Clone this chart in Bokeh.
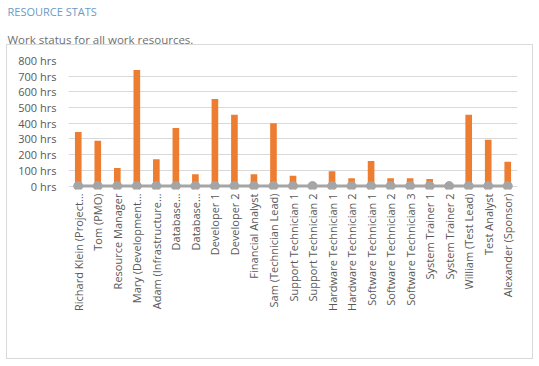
from math import pi
from bokeh.plotting import figure
from bokeh.models import (ColumnDataSource, Range1d, FixedTicker, PrintfTickFormatter,
                          Legend, LegendItem, Title)
from bokeh.embed import file_html
from bokeh.resources import INLINE

# ---------------- data ----------------
resource_labels = [
    "Richard Klein (Project\u2026", "Tom (PMO)", "Resource Manager", "Mary (Development\u2026",
    "Adam (Infrastructure\u2026", "Database\u2026", "Database\u2026", "Developer 1", "Developer 2",
    "Financial Analyst", "Sam (Technician Lead)", "Support Technician 1", "Support Technician 2",
    "Hardware Technician 1", "Hardware Technician 2", "Software Technician 1",
    "Software Technician 2", "Software Technician 3", "System Trainer 1", "System Trainer 2",
    "William (Test Lead)", "Test Analyst", "Alexander (Sponsor)",
]
actual_work = [0, 0, 0, 0, 0, 0, 0, 0, 0, 0, 0, 0, 0, 0, 0, 0, 0, 0, 0, 0, 0, 0, 0]
remaining_work = [345, 288, 115, 740, 170, 370, 75, 555, 455, 75, 400, 65, 0,
                  95, 50, 160, 50, 50, 45, 0, 455, 295, 155]
baseline_work = [0, 0, 0, 0, 0, 0, 0, 0, 0, 0, 0, 0, 0, 0, 0, 0, 0, 0, 0, 0, 0, 0, 0]
y_ticks = [0, 100, 200, 300, 400, 500, 600, 700, 800]
title_text = "RESOURCE STATS"
subtitle_text = "Work status for all work resources."
series_names = ["Actual Work", "Remaining Work", "Baseline Work"]

FONT = "Open Sans"
BLUE, ORANGE, GRAY = "#5b9bd5", "#ed7d31", "#a5a5a5"
TXT = "#595959"
BOX = "#d9d9d9"

n = len(resource_labels)
xs = list(range(n))
src = ColumnDataSource(dict(
    x=xs,
    actual=actual_work,
    rem_bottom=actual_work,
    rem_top=[a + r for a, r in zip(actual_work, remaining_work)],
    base=baseline_work,
))

g = "linear-gradient(%s,%s)" % (BOX, BOX)
box_css = ", ".join([
    g + " 6px 44px / 527px 1px no-repeat",
    g + " 6px 358px / 527px 1px no-repeat",
    g + " 6px 44px / 1px 315px no-repeat",
    g + " 532px 44px / 1px 315px no-repeat",
])

p = figure(width=539, height=366, x_range=Range1d(-0.5, n - 0.5), y_range=Range1d(-22, 800),
           output_backend="svg", toolbar_location=None,
           min_border_left=68, min_border_right=22, min_border_top=59, min_border_bottom=177,
           styles={"background": box_css})
p.outline_line_color = None
p.background_fill_color = None
p.border_fill_color = None

# header titles: p.title is the outer (top) one, the added one sits next to the plot
p.title.text = title_text
p.title.text_font = FONT
p.title.text_font_size = "11px"
p.title.text_font_style = "normal"
p.title.text_color = "#6b9bc7"
p.title.align = "left"
p.title.offset = -61
p.title.standoff = 2
p.title.level = "overlay"
p.add_layout(Title(text=subtitle_text, text_font=FONT, text_font_size="11.5px",
                   text_font_style="normal", text_color="#6f6f6f", align="left",
                   offset=-61, standoff=24, vertical_align="top", level="overlay"), "above")

r_act = p.vbar(x="x", bottom=0, top="actual", width=0.34, source=src,
               fill_color=BLUE, line_color=None)
r_rem = p.vbar(x="x", bottom="rem_bottom", top="rem_top", width=0.34, source=src,
               fill_color=ORANGE, line_color=None)
r_line = p.line(x="x", y="base", source=src, line_color=GRAY, line_width=3)
r_pts = p.scatter(x="x", y="base", source=src, size=9, fill_color=GRAY, line_color=GRAY)

# axes
p.xaxis.ticker = FixedTicker(ticks=xs)
p.xaxis.major_label_overrides = {i: lbl for i, lbl in enumerate(resource_labels)}
p.xaxis.major_label_orientation = pi / 2
p.xaxis.axis_line_color = None
p.xaxis.major_tick_line_color = None
p.xaxis.minor_tick_line_color = None
p.xaxis.major_tick_out = 0
p.xaxis.major_label_standoff = 4
p.xaxis.major_label_text_font = FONT
p.xaxis.major_label_text_font_size = "11px"
p.xaxis.major_label_text_color = TXT
p.xaxis.axis_label = "\u00a0"
p.xaxis.axis_label_standoff = 14
p.xaxis.axis_label_text_font_size = "12px"

p.yaxis.ticker = FixedTicker(ticks=y_ticks)
p.yaxis.formatter = PrintfTickFormatter(format="%d hrs")
p.yaxis.axis_line_color = None
p.yaxis.major_tick_line_color = None
p.yaxis.minor_tick_line_color = None
p.yaxis.major_tick_out = 0
p.yaxis.major_label_standoff = 12
p.yaxis.major_label_text_font = FONT
p.yaxis.major_label_text_font_size = "11px"
p.yaxis.major_label_text_color = TXT

p.xgrid.grid_line_color = None
p.ygrid.grid_line_color = "#d9d9d9"
p.ygrid.ticker = FixedTicker(ticks=y_ticks)

legend = Legend(items=[
    LegendItem(label=series_names[0], renderers=[r_act]),
    LegendItem(label=series_names[1], renderers=[r_rem]),
    LegendItem(label=series_names[2], renderers=[r_line, r_pts]),
], orientation="horizontal", location=(22, -158), glyph_width=28, glyph_height=6,
    label_standoff=3, spacing=22, border_line_color=None, background_fill_alpha=0,
    label_text_font=FONT, label_text_font_size="11.5px", label_text_color=TXT,
    margin=0, padding=4)
p.add_layout(legend)

open("out.html", "w").write(file_html(p, INLINE))
